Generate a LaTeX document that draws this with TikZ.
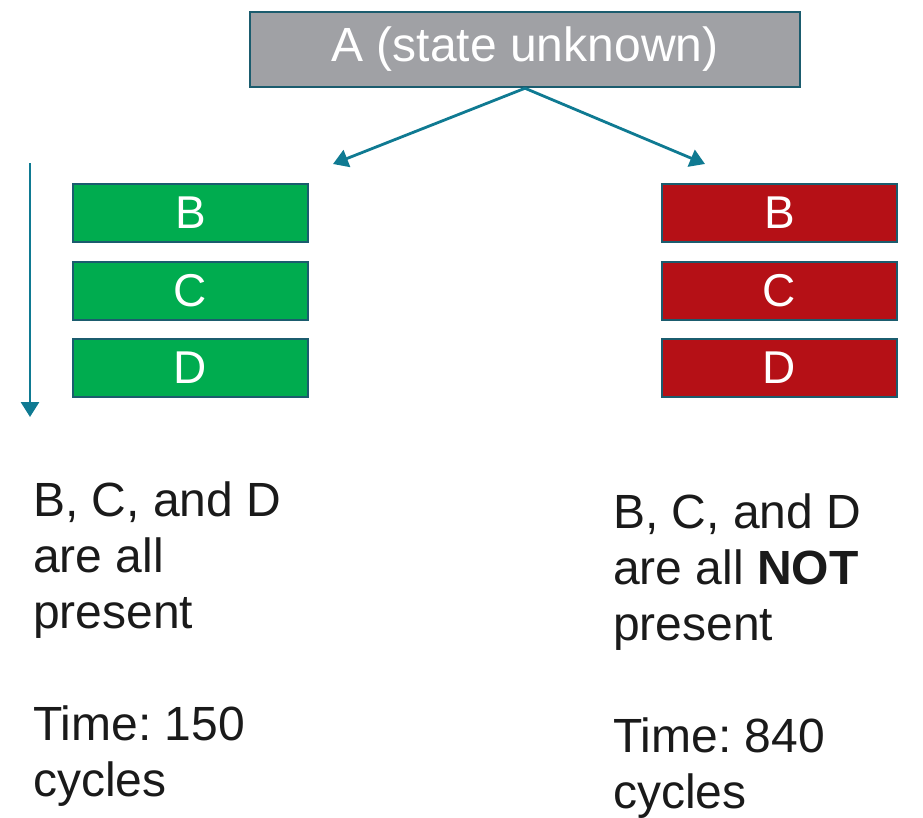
\documentclass[tikz,border=0pt]{standalone}
\usepackage{fontspec}
\setmainfont{Liberation Sans}
\usetikzlibrary{arrows.meta}
\frenchspacing
\definecolor{tealline}{HTML}{0F7A92}
\definecolor{boxedge}{HTML}{1B5C6E}
\definecolor{graybox}{HTML}{A0A1A5}
\definecolor{okgreen}{HTML}{00AC4F}
\definecolor{badred}{HTML}{B51016}
\definecolor{textdark}{HTML}{1A1A1A}
\tikzset{
  rootbox/.style={draw=boxedge, line width=2.5pt, fill=graybox, text=white,
    minimum width=550pt, minimum height=75pt, inner sep=0pt,
    font=\fontsize{48}{56}\selectfont},
  cellbox/.style={draw=boxedge, line width=2.5pt, text=white,
    minimum width=235pt, minimum height=58pt, inner sep=0pt,
    font=\fontsize{46}{54}\selectfont},
  hitcell/.style={cellbox, fill=okgreen},
  misscell/.style={cellbox, fill=badred},
  flow/.style={draw=tealline, line width=2.8pt,
    -{Triangle[length=15pt,width=18pt]}},
  % multi-line captions: the base anchor sits on the last line
  note/.style={anchor=base west, inner sep=0pt, align=left, text=textdark,
    font=\fontsize{48}{56}\selectfont\frenchspacing}
}
\begin{document}
\begin{tikzpicture}[x=1pt,y=-1pt]
  \useasboundingbox (0,0) rectangle (923,817);

  % root block
  \node[rootbox] (A) at (525,49.5) {A (state unknown)};

  % left stack: lines present
  \node[hitcell] (B1) at (190.5,213) {B};
  \node[hitcell] (C1) at (190.5,291) {C};
  \node[hitcell] (D1) at (190.5,368) {D};

  % right stack: lines missing
  \node[misscell] (B2) at (779.5,213) {B};
  \node[misscell] (C2) at (779.5,291) {C};
  \node[misscell] (D2) at (779.5,368) {D};

  % branches out of the root
  \coordinate (lefttip) at (333,164);
  \coordinate (righttip) at (705,164);
  \draw[flow] (A.south) -- (lefttip);
  \draw[flow] (A.south) -- (righttip);

  % access order
  \coordinate (ordtop) at (30,163);
  \coordinate (ordbot) at (30,417);
  \draw[flow] (ordtop) -- (ordbot);

  % captions
  \node[note] (leftnote) at (33,796)
    {B, C, and D\\are all\\present\\[56pt]Time: 150\\cycles};
  \node[note] (rightnote) at (613,808)
    {B, C, and D\\are all \textbf{NOT}\\present\\[56pt]Time: 840\\cycles};
\end{tikzpicture}
\end{document}
